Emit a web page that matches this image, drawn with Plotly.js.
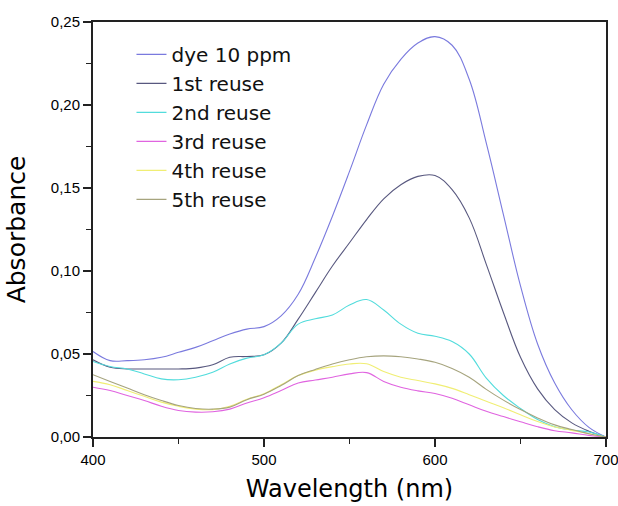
<!DOCTYPE html>
<html>
<head>
<meta charset="utf-8">
<script src="https://cdn.plot.ly/plotly-3.0.1.min.js"></script>
<style>html,body{margin:0;padding:0;background:#fff;}#chart{width:618px;height:506px;}</style>
</head>
<body>
<div id="chart"></div>
<script>
const wavelength = [400,410,420,430,440,450,460,470,480,490,500,510,520,530,540,550,560,570,580,590,600,610,620,630,640,650,660,670,680,690,700];
const dye10ppm = [0.0515,0.046,0.046,0.0465,0.048,0.051,0.054,0.058,0.062,0.065,0.0665,0.073,0.086,0.108,0.133,0.160,0.188,0.2125,0.2275,0.2373,0.2412,0.236,0.2155,0.177,0.134,0.091,0.056,0.0325,0.0164,0.0058,0.0];
const reuse1 = [0.0465,0.042,0.041,0.041,0.041,0.041,0.0415,0.0435,0.048,0.0485,0.0495,0.0565,0.071,0.087,0.103,0.117,0.131,0.1435,0.152,0.157,0.1575,0.149,0.132,0.104,0.075,0.048,0.029,0.0165,0.0085,0.0035,0.0];
const reuse2 = [0.0455,0.0425,0.041,0.038,0.035,0.0345,0.036,0.039,0.044,0.0475,0.0495,0.0565,0.068,0.0712,0.0735,0.0795,0.0828,0.0765,0.068,0.0625,0.0607,0.0575,0.050,0.0355,0.025,0.0172,0.0105,0.0062,0.0042,0.003,0.0];
const reuse3 = [0.030,0.028,0.025,0.022,0.0185,0.016,0.015,0.0152,0.0168,0.0205,0.0237,0.028,0.0325,0.0343,0.036,0.038,0.0388,0.0335,0.030,0.0278,0.0262,0.0233,0.0194,0.0155,0.0123,0.0092,0.0062,0.0038,0.0025,0.001,0.0];
const reuse4 = [0.0335,0.0315,0.028,0.0245,0.021,0.0185,0.0168,0.0165,0.0185,0.0228,0.026,0.0315,0.037,0.0403,0.0424,0.044,0.0441,0.0394,0.036,0.034,0.032,0.0293,0.0255,0.0215,0.0176,0.0134,0.0093,0.006,0.004,0.002,0.0];
const reuse5 = [0.0375,0.0335,0.0295,0.0255,0.022,0.019,0.0172,0.0168,0.018,0.0225,0.0258,0.031,0.037,0.0407,0.044,0.0465,0.0483,0.0489,0.0483,0.047,0.045,0.0413,0.036,0.0287,0.0222,0.0165,0.0115,0.0073,0.0045,0.002,0.0];

const seriesNames = ['dye 10 ppm','1st reuse','2nd reuse','3rd reuse','4th reuse','5th reuse'];
const seriesValues = [dye10ppm, reuse1, reuse2, reuse3, reuse4, reuse5];
const seriesColors = ['#7a7ade','#58587f','#52dcdc','#e064e0','#f0ee74','#a6a47e'];

const traces = seriesValues.map((v,i)=>({
  x: wavelength, y: v, name: seriesNames[i], type:'scatter', mode:'lines',
  line:{color: seriesColors[i], width:1.1, shape:'spline', smoothing:1.1}
}));

const wideFont = 'DejaVu Sans, Verdana, sans-serif';

const layout = {
  width:618, height:506,
  margin:{l:93, r:12, t:22, b:69},
  paper_bgcolor:'#fff', plot_bgcolor:'#fff',
  separators:',.',
  font:{family:'Liberation Sans, Arial, sans-serif', color:'#000'},
  showlegend:true,
  legend:{x:0.075, y:0.969, xanchor:'left', yanchor:'top', bgcolor:'rgba(0,0,0,0)',
    font:{size:20, color:'#111', family: wideFont}, itemwidth:30, tracegroupgap:0},
  xaxis:{range:[400,700], dtick:100, tick0:400, ticks:'outside', ticklen:8, tickwidth:1.5,
    tickcolor:'#222', showline:true, linecolor:'#222', linewidth:2, mirror:true,
    showgrid:false, zeroline:false, tickfont:{size:15}, ticklabelstandoff:0,
    ticklabeloverflow:'allow',
    minor:{dtick:50, ticks:'outside', ticklen:5, tickwidth:1.5, tickcolor:'#222', showgrid:false},
    title:{text:'Wavelength (nm)', font:{size:24, family: wideFont}, standoff:13}},
  yaxis:{range:[0,0.25], dtick:0.05, tick0:0, tickformat:'.2f', ticks:'outside', ticklen:8, tickwidth:1.5,
    tickcolor:'#222', showline:true, linecolor:'#222', linewidth:2, mirror:true,
    showgrid:false, zeroline:false, tickfont:{size:15},
    minor:{dtick:0.025, ticks:'outside', ticklen:5, tickwidth:1.5, tickcolor:'#222', showgrid:false},
    title:{text:'Absorbance', font:{size:25, family: wideFont}, standoff:18}}
};

Plotly.newPlot('chart', traces, layout, {displayModeBar:false, staticPlot:true});
</script>
</body>
</html>
